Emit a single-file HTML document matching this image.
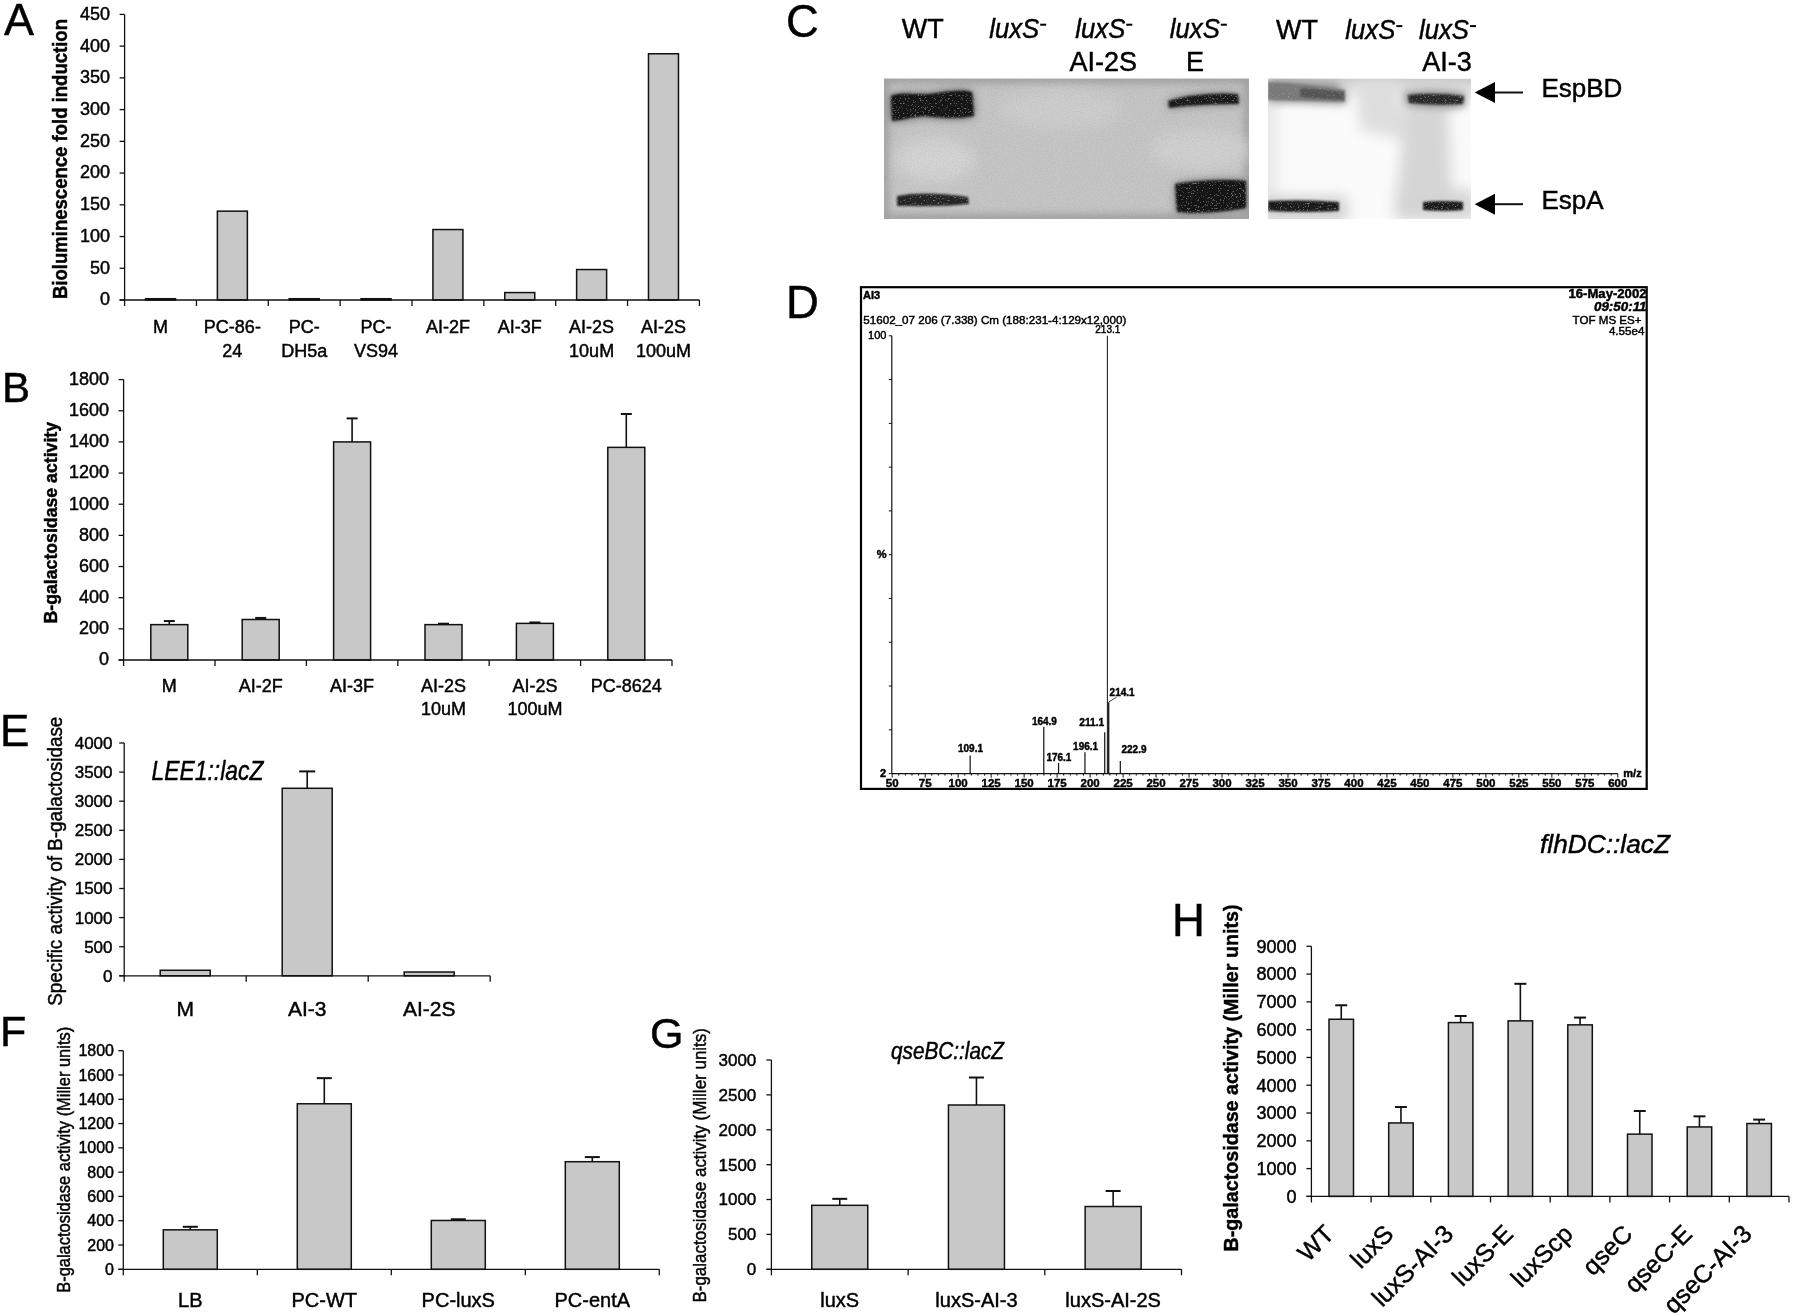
<!DOCTYPE html><html><head><meta charset="utf-8"><style>html,body{margin:0;padding:0;background:#fff;}svg{display:block;will-change:transform;} text{stroke:#000;stroke-width:0.45px;}</style></head><body>
<svg width="1800" height="1316" viewBox="0 0 1800 1316" font-family='"Liberation Sans", sans-serif'>
<rect width="1800" height="1316" fill="#fff"/>
<text x="4.00" y="35.00" font-size="45" text-anchor="start" font-weight="normal" font-style="normal" fill="#000" >A</text>
<rect x="145.52" y="298.73" width="30.00" height="1.27" fill="#c8c8c8" stroke="#111" stroke-width="1.5"/>
<rect x="217.38" y="211.15" width="30.00" height="88.85" fill="#c8c8c8" stroke="#111" stroke-width="1.5"/>
<rect x="289.23" y="298.73" width="30.00" height="1.27" fill="#c8c8c8" stroke="#111" stroke-width="1.5"/>
<rect x="361.07" y="298.73" width="30.00" height="1.27" fill="#c8c8c8" stroke="#111" stroke-width="1.5"/>
<rect x="432.92" y="229.55" width="30.00" height="70.45" fill="#c8c8c8" stroke="#111" stroke-width="1.5"/>
<rect x="504.77" y="292.57" width="30.00" height="7.43" fill="#c8c8c8" stroke="#111" stroke-width="1.5"/>
<rect x="576.62" y="269.54" width="30.00" height="30.46" fill="#c8c8c8" stroke="#111" stroke-width="1.5"/>
<rect x="648.48" y="53.75" width="30.00" height="246.25" fill="#c8c8c8" stroke="#111" stroke-width="1.5"/>
<line x1="124.60" y1="14.40" x2="124.60" y2="306.00" stroke="#111" stroke-width="1.3"/>
<line x1="119.60" y1="300.00" x2="699.40" y2="300.00" stroke="#111" stroke-width="1.3"/>
<line x1="119.60" y1="300.00" x2="124.60" y2="300.00" stroke="#111" stroke-width="1.3"/>
<text x="110.00" y="305.40" font-size="18" text-anchor="end" font-weight="normal" font-style="normal" fill="#000" >0</text>
<line x1="119.60" y1="268.27" x2="124.60" y2="268.27" stroke="#111" stroke-width="1.3"/>
<text x="110.00" y="273.67" font-size="18" text-anchor="end" font-weight="normal" font-style="normal" fill="#000" >50</text>
<line x1="119.60" y1="236.53" x2="124.60" y2="236.53" stroke="#111" stroke-width="1.3"/>
<text x="110.00" y="241.93" font-size="18" text-anchor="end" font-weight="normal" font-style="normal" fill="#000" >100</text>
<line x1="119.60" y1="204.80" x2="124.60" y2="204.80" stroke="#111" stroke-width="1.3"/>
<text x="110.00" y="210.20" font-size="18" text-anchor="end" font-weight="normal" font-style="normal" fill="#000" >150</text>
<line x1="119.60" y1="173.07" x2="124.60" y2="173.07" stroke="#111" stroke-width="1.3"/>
<text x="110.00" y="178.47" font-size="18" text-anchor="end" font-weight="normal" font-style="normal" fill="#000" >200</text>
<line x1="119.60" y1="141.33" x2="124.60" y2="141.33" stroke="#111" stroke-width="1.3"/>
<text x="110.00" y="146.73" font-size="18" text-anchor="end" font-weight="normal" font-style="normal" fill="#000" >250</text>
<line x1="119.60" y1="109.60" x2="124.60" y2="109.60" stroke="#111" stroke-width="1.3"/>
<text x="110.00" y="115.00" font-size="18" text-anchor="end" font-weight="normal" font-style="normal" fill="#000" >300</text>
<line x1="119.60" y1="77.87" x2="124.60" y2="77.87" stroke="#111" stroke-width="1.3"/>
<text x="110.00" y="83.27" font-size="18" text-anchor="end" font-weight="normal" font-style="normal" fill="#000" >350</text>
<line x1="119.60" y1="46.13" x2="124.60" y2="46.13" stroke="#111" stroke-width="1.3"/>
<text x="110.00" y="51.53" font-size="18" text-anchor="end" font-weight="normal" font-style="normal" fill="#000" >400</text>
<line x1="119.60" y1="14.40" x2="124.60" y2="14.40" stroke="#111" stroke-width="1.3"/>
<text x="110.00" y="19.80" font-size="18" text-anchor="end" font-weight="normal" font-style="normal" fill="#000" >450</text>
<line x1="196.45" y1="300.00" x2="196.45" y2="306.00" stroke="#111" stroke-width="1.3"/>
<line x1="268.30" y1="300.00" x2="268.30" y2="306.00" stroke="#111" stroke-width="1.3"/>
<line x1="340.15" y1="300.00" x2="340.15" y2="306.00" stroke="#111" stroke-width="1.3"/>
<line x1="412.00" y1="300.00" x2="412.00" y2="306.00" stroke="#111" stroke-width="1.3"/>
<line x1="483.85" y1="300.00" x2="483.85" y2="306.00" stroke="#111" stroke-width="1.3"/>
<line x1="555.70" y1="300.00" x2="555.70" y2="306.00" stroke="#111" stroke-width="1.3"/>
<line x1="627.55" y1="300.00" x2="627.55" y2="306.00" stroke="#111" stroke-width="1.3"/>
<line x1="699.40" y1="300.00" x2="699.40" y2="306.00" stroke="#111" stroke-width="1.3"/>
<text transform="translate(66.70,159.00) rotate(-90)" x="0" y="0" font-size="20" text-anchor="middle" font-weight="bold" textLength="280" lengthAdjust="spacingAndGlyphs">Bioluminescence fold induction</text>
<text x="160.52" y="332.60" font-size="18" text-anchor="middle" font-weight="normal" font-style="normal" fill="#000" >M</text>
<text x="232.38" y="332.60" font-size="18" text-anchor="middle" font-weight="normal" font-style="normal" fill="#000" >PC-86-</text>
<text x="232.38" y="357.00" font-size="18" text-anchor="middle" font-weight="normal" font-style="normal" fill="#000" >24</text>
<text x="304.23" y="332.60" font-size="18" text-anchor="middle" font-weight="normal" font-style="normal" fill="#000" >PC-</text>
<text x="304.23" y="357.00" font-size="18" text-anchor="middle" font-weight="normal" font-style="normal" fill="#000" >DH5a</text>
<text x="376.07" y="332.60" font-size="18" text-anchor="middle" font-weight="normal" font-style="normal" fill="#000" >PC-</text>
<text x="376.07" y="357.00" font-size="18" text-anchor="middle" font-weight="normal" font-style="normal" fill="#000" >VS94</text>
<text x="447.92" y="332.60" font-size="18" text-anchor="middle" font-weight="normal" font-style="normal" fill="#000" >AI-2F</text>
<text x="519.77" y="332.60" font-size="18" text-anchor="middle" font-weight="normal" font-style="normal" fill="#000" >AI-3F</text>
<text x="591.62" y="332.60" font-size="18" text-anchor="middle" font-weight="normal" font-style="normal" fill="#000" >AI-2S</text>
<text x="591.62" y="357.00" font-size="18" text-anchor="middle" font-weight="normal" font-style="normal" fill="#000" >10uM</text>
<text x="663.48" y="332.60" font-size="18" text-anchor="middle" font-weight="normal" font-style="normal" fill="#000" >AI-2S</text>
<text x="663.48" y="357.00" font-size="18" text-anchor="middle" font-weight="normal" font-style="normal" fill="#000" >100uM</text>
<text x="2.00" y="402.00" font-size="42" text-anchor="start" font-weight="normal" font-style="normal" fill="#000" >B</text>
<line x1="169.30" y1="624.64" x2="169.30" y2="621.06" stroke="#111" stroke-width="1.6"/>
<line x1="163.80" y1="621.06" x2="174.80" y2="621.06" stroke="#111" stroke-width="2.0"/>
<rect x="150.80" y="624.64" width="37.00" height="35.36" fill="#c8c8c8" stroke="#111" stroke-width="1.5"/>
<line x1="260.70" y1="619.50" x2="260.70" y2="617.94" stroke="#111" stroke-width="1.6"/>
<line x1="255.20" y1="617.94" x2="266.20" y2="617.94" stroke="#111" stroke-width="2.0"/>
<rect x="242.20" y="619.50" width="37.00" height="40.50" fill="#c8c8c8" stroke="#111" stroke-width="1.5"/>
<line x1="352.10" y1="441.91" x2="352.10" y2="418.39" stroke="#111" stroke-width="1.6"/>
<line x1="346.60" y1="418.39" x2="357.60" y2="418.39" stroke="#111" stroke-width="2.0"/>
<rect x="333.60" y="441.91" width="37.00" height="218.09" fill="#c8c8c8" stroke="#111" stroke-width="1.5"/>
<line x1="443.50" y1="624.64" x2="443.50" y2="623.70" stroke="#111" stroke-width="1.6"/>
<line x1="438.00" y1="623.70" x2="449.00" y2="623.70" stroke="#111" stroke-width="2.0"/>
<rect x="425.00" y="624.64" width="37.00" height="35.36" fill="#c8c8c8" stroke="#111" stroke-width="1.5"/>
<line x1="534.90" y1="623.39" x2="534.90" y2="622.46" stroke="#111" stroke-width="1.6"/>
<line x1="529.40" y1="622.46" x2="540.40" y2="622.46" stroke="#111" stroke-width="2.0"/>
<rect x="516.40" y="623.39" width="37.00" height="36.61" fill="#c8c8c8" stroke="#111" stroke-width="1.5"/>
<line x1="626.30" y1="447.36" x2="626.30" y2="414.03" stroke="#111" stroke-width="1.6"/>
<line x1="620.80" y1="414.03" x2="631.80" y2="414.03" stroke="#111" stroke-width="2.0"/>
<rect x="607.80" y="447.36" width="37.00" height="212.64" fill="#c8c8c8" stroke="#111" stroke-width="1.5"/>
<line x1="123.60" y1="379.60" x2="123.60" y2="666.00" stroke="#111" stroke-width="1.3"/>
<line x1="118.60" y1="660.00" x2="672.00" y2="660.00" stroke="#111" stroke-width="1.3"/>
<line x1="118.60" y1="660.00" x2="123.60" y2="660.00" stroke="#111" stroke-width="1.3"/>
<text x="109.00" y="665.40" font-size="18" text-anchor="end" font-weight="normal" font-style="normal" fill="#000" >0</text>
<line x1="118.60" y1="628.84" x2="123.60" y2="628.84" stroke="#111" stroke-width="1.3"/>
<text x="109.00" y="634.24" font-size="18" text-anchor="end" font-weight="normal" font-style="normal" fill="#000" >200</text>
<line x1="118.60" y1="597.69" x2="123.60" y2="597.69" stroke="#111" stroke-width="1.3"/>
<text x="109.00" y="603.09" font-size="18" text-anchor="end" font-weight="normal" font-style="normal" fill="#000" >400</text>
<line x1="118.60" y1="566.53" x2="123.60" y2="566.53" stroke="#111" stroke-width="1.3"/>
<text x="109.00" y="571.93" font-size="18" text-anchor="end" font-weight="normal" font-style="normal" fill="#000" >600</text>
<line x1="118.60" y1="535.38" x2="123.60" y2="535.38" stroke="#111" stroke-width="1.3"/>
<text x="109.00" y="540.78" font-size="18" text-anchor="end" font-weight="normal" font-style="normal" fill="#000" >800</text>
<line x1="118.60" y1="504.22" x2="123.60" y2="504.22" stroke="#111" stroke-width="1.3"/>
<text x="109.00" y="509.62" font-size="18" text-anchor="end" font-weight="normal" font-style="normal" fill="#000" >1000</text>
<line x1="118.60" y1="473.07" x2="123.60" y2="473.07" stroke="#111" stroke-width="1.3"/>
<text x="109.00" y="478.47" font-size="18" text-anchor="end" font-weight="normal" font-style="normal" fill="#000" >1200</text>
<line x1="118.60" y1="441.91" x2="123.60" y2="441.91" stroke="#111" stroke-width="1.3"/>
<text x="109.00" y="447.31" font-size="18" text-anchor="end" font-weight="normal" font-style="normal" fill="#000" >1400</text>
<line x1="118.60" y1="410.76" x2="123.60" y2="410.76" stroke="#111" stroke-width="1.3"/>
<text x="109.00" y="416.16" font-size="18" text-anchor="end" font-weight="normal" font-style="normal" fill="#000" >1600</text>
<line x1="118.60" y1="379.60" x2="123.60" y2="379.60" stroke="#111" stroke-width="1.3"/>
<text x="109.00" y="385.00" font-size="18" text-anchor="end" font-weight="normal" font-style="normal" fill="#000" >1800</text>
<line x1="215.00" y1="660.00" x2="215.00" y2="666.00" stroke="#111" stroke-width="1.3"/>
<line x1="306.40" y1="660.00" x2="306.40" y2="666.00" stroke="#111" stroke-width="1.3"/>
<line x1="397.80" y1="660.00" x2="397.80" y2="666.00" stroke="#111" stroke-width="1.3"/>
<line x1="489.20" y1="660.00" x2="489.20" y2="666.00" stroke="#111" stroke-width="1.3"/>
<line x1="580.60" y1="660.00" x2="580.60" y2="666.00" stroke="#111" stroke-width="1.3"/>
<line x1="672.00" y1="660.00" x2="672.00" y2="666.00" stroke="#111" stroke-width="1.3"/>
<text transform="translate(56.70,522.70) rotate(-90)" x="0" y="0" font-size="18" text-anchor="middle" font-weight="bold" textLength="201.5" lengthAdjust="spacingAndGlyphs">B-galactosidase activity</text>
<text x="169.30" y="691.60" font-size="18" text-anchor="middle" font-weight="normal" font-style="normal" fill="#000" >M</text>
<text x="260.70" y="691.60" font-size="18" text-anchor="middle" font-weight="normal" font-style="normal" fill="#000" >AI-2F</text>
<text x="352.10" y="691.60" font-size="18" text-anchor="middle" font-weight="normal" font-style="normal" fill="#000" >AI-3F</text>
<text x="443.50" y="691.60" font-size="18" text-anchor="middle" font-weight="normal" font-style="normal" fill="#000" >AI-2S</text>
<text x="443.50" y="715.00" font-size="18" text-anchor="middle" font-weight="normal" font-style="normal" fill="#000" >10uM</text>
<text x="534.90" y="691.60" font-size="18" text-anchor="middle" font-weight="normal" font-style="normal" fill="#000" >AI-2S</text>
<text x="534.90" y="715.00" font-size="18" text-anchor="middle" font-weight="normal" font-style="normal" fill="#000" >100uM</text>
<text x="626.30" y="691.60" font-size="18" text-anchor="middle" font-weight="normal" font-style="normal" fill="#000" >PC-8624</text>
<text x="0.00" y="746.00" font-size="44" text-anchor="start" font-weight="normal" font-style="normal" fill="#000" >E</text>
<rect x="160.20" y="970.27" width="50.00" height="5.53" fill="#c8c8c8" stroke="#111" stroke-width="1.5"/>
<line x1="307.20" y1="788.28" x2="307.20" y2="771.40" stroke="#111" stroke-width="1.6"/>
<line x1="299.20" y1="771.40" x2="315.20" y2="771.40" stroke="#111" stroke-width="2.0"/>
<rect x="282.20" y="788.28" width="50.00" height="187.52" fill="#c8c8c8" stroke="#111" stroke-width="1.5"/>
<rect x="404.20" y="972.02" width="50.00" height="3.78" fill="#c8c8c8" stroke="#111" stroke-width="1.5"/>
<line x1="124.20" y1="743.00" x2="124.20" y2="981.80" stroke="#111" stroke-width="1.3"/>
<line x1="119.20" y1="975.80" x2="490.20" y2="975.80" stroke="#111" stroke-width="1.3"/>
<line x1="119.20" y1="975.80" x2="124.20" y2="975.80" stroke="#111" stroke-width="1.3"/>
<text x="112.50" y="981.75" font-size="17" text-anchor="end" font-weight="normal" font-style="normal" fill="#000" >0</text>
<line x1="119.20" y1="946.70" x2="124.20" y2="946.70" stroke="#111" stroke-width="1.3"/>
<text x="112.50" y="952.65" font-size="17" text-anchor="end" font-weight="normal" font-style="normal" fill="#000" >500</text>
<line x1="119.20" y1="917.60" x2="124.20" y2="917.60" stroke="#111" stroke-width="1.3"/>
<text x="112.50" y="923.55" font-size="17" text-anchor="end" font-weight="normal" font-style="normal" fill="#000" >1000</text>
<line x1="119.20" y1="888.50" x2="124.20" y2="888.50" stroke="#111" stroke-width="1.3"/>
<text x="112.50" y="894.45" font-size="17" text-anchor="end" font-weight="normal" font-style="normal" fill="#000" >1500</text>
<line x1="119.20" y1="859.40" x2="124.20" y2="859.40" stroke="#111" stroke-width="1.3"/>
<text x="112.50" y="865.35" font-size="17" text-anchor="end" font-weight="normal" font-style="normal" fill="#000" >2000</text>
<line x1="119.20" y1="830.30" x2="124.20" y2="830.30" stroke="#111" stroke-width="1.3"/>
<text x="112.50" y="836.25" font-size="17" text-anchor="end" font-weight="normal" font-style="normal" fill="#000" >2500</text>
<line x1="119.20" y1="801.20" x2="124.20" y2="801.20" stroke="#111" stroke-width="1.3"/>
<text x="112.50" y="807.15" font-size="17" text-anchor="end" font-weight="normal" font-style="normal" fill="#000" >3000</text>
<line x1="119.20" y1="772.10" x2="124.20" y2="772.10" stroke="#111" stroke-width="1.3"/>
<text x="112.50" y="778.05" font-size="17" text-anchor="end" font-weight="normal" font-style="normal" fill="#000" >3500</text>
<line x1="119.20" y1="743.00" x2="124.20" y2="743.00" stroke="#111" stroke-width="1.3"/>
<text x="112.50" y="748.95" font-size="17" text-anchor="end" font-weight="normal" font-style="normal" fill="#000" >4000</text>
<line x1="246.20" y1="975.80" x2="246.20" y2="981.80" stroke="#111" stroke-width="1.3"/>
<line x1="368.20" y1="975.80" x2="368.20" y2="981.80" stroke="#111" stroke-width="1.3"/>
<line x1="490.20" y1="975.80" x2="490.20" y2="981.80" stroke="#111" stroke-width="1.3"/>
<text transform="translate(62.00,861.20) rotate(-90)" x="0" y="0" font-size="21" text-anchor="middle" font-weight="normal" textLength="289" lengthAdjust="spacingAndGlyphs">Specific activity of B-galactosidase</text>
<text x="151.40" y="780.00" font-size="27" text-anchor="start" font-weight="normal" font-style="italic" fill="#000" textLength="112" lengthAdjust="spacingAndGlyphs" >LEE1::lacZ</text>
<text x="185.20" y="1016.00" font-size="21" text-anchor="middle" font-weight="normal" font-style="normal" fill="#000" >M</text>
<text x="307.20" y="1016.00" font-size="21" text-anchor="middle" font-weight="normal" font-style="normal" fill="#000" >AI-3</text>
<text x="429.20" y="1016.00" font-size="21" text-anchor="middle" font-weight="normal" font-style="normal" fill="#000" >AI-2S</text>
<text x="0.00" y="1045.50" font-size="43" text-anchor="start" font-weight="normal" font-style="normal" fill="#000" >F</text>
<line x1="190.30" y1="1229.83" x2="190.30" y2="1226.79" stroke="#111" stroke-width="1.6"/>
<line x1="182.80" y1="1226.79" x2="197.80" y2="1226.79" stroke="#111" stroke-width="2.0"/>
<rect x="163.30" y="1229.83" width="54.00" height="39.47" fill="#c8c8c8" stroke="#111" stroke-width="1.5"/>
<line x1="324.30" y1="1103.77" x2="324.30" y2="1078.15" stroke="#111" stroke-width="1.6"/>
<line x1="316.80" y1="1078.15" x2="331.80" y2="1078.15" stroke="#111" stroke-width="2.0"/>
<rect x="297.30" y="1103.77" width="54.00" height="165.53" fill="#c8c8c8" stroke="#111" stroke-width="1.5"/>
<line x1="458.30" y1="1220.48" x2="458.30" y2="1219.26" stroke="#111" stroke-width="1.6"/>
<line x1="450.80" y1="1219.26" x2="465.80" y2="1219.26" stroke="#111" stroke-width="2.0"/>
<rect x="431.30" y="1220.48" width="54.00" height="48.82" fill="#c8c8c8" stroke="#111" stroke-width="1.5"/>
<line x1="592.30" y1="1161.70" x2="592.30" y2="1157.09" stroke="#111" stroke-width="1.6"/>
<line x1="584.80" y1="1157.09" x2="599.80" y2="1157.09" stroke="#111" stroke-width="2.0"/>
<rect x="565.30" y="1161.70" width="54.00" height="107.60" fill="#c8c8c8" stroke="#111" stroke-width="1.5"/>
<line x1="123.30" y1="1050.70" x2="123.30" y2="1275.30" stroke="#111" stroke-width="1.3"/>
<line x1="118.30" y1="1269.30" x2="659.30" y2="1269.30" stroke="#111" stroke-width="1.3"/>
<line x1="118.30" y1="1269.30" x2="123.30" y2="1269.30" stroke="#111" stroke-width="1.3"/>
<text x="114.00" y="1274.90" font-size="16" text-anchor="end" font-weight="normal" font-style="normal" fill="#000" >0</text>
<line x1="118.30" y1="1245.01" x2="123.30" y2="1245.01" stroke="#111" stroke-width="1.3"/>
<text x="114.00" y="1250.61" font-size="16" text-anchor="end" font-weight="normal" font-style="normal" fill="#000" >200</text>
<line x1="118.30" y1="1220.72" x2="123.30" y2="1220.72" stroke="#111" stroke-width="1.3"/>
<text x="114.00" y="1226.32" font-size="16" text-anchor="end" font-weight="normal" font-style="normal" fill="#000" >400</text>
<line x1="118.30" y1="1196.43" x2="123.30" y2="1196.43" stroke="#111" stroke-width="1.3"/>
<text x="114.00" y="1202.03" font-size="16" text-anchor="end" font-weight="normal" font-style="normal" fill="#000" >600</text>
<line x1="118.30" y1="1172.14" x2="123.30" y2="1172.14" stroke="#111" stroke-width="1.3"/>
<text x="114.00" y="1177.74" font-size="16" text-anchor="end" font-weight="normal" font-style="normal" fill="#000" >800</text>
<line x1="118.30" y1="1147.86" x2="123.30" y2="1147.86" stroke="#111" stroke-width="1.3"/>
<text x="114.00" y="1153.46" font-size="16" text-anchor="end" font-weight="normal" font-style="normal" fill="#000" >1000</text>
<line x1="118.30" y1="1123.57" x2="123.30" y2="1123.57" stroke="#111" stroke-width="1.3"/>
<text x="114.00" y="1129.17" font-size="16" text-anchor="end" font-weight="normal" font-style="normal" fill="#000" >1200</text>
<line x1="118.30" y1="1099.28" x2="123.30" y2="1099.28" stroke="#111" stroke-width="1.3"/>
<text x="114.00" y="1104.88" font-size="16" text-anchor="end" font-weight="normal" font-style="normal" fill="#000" >1400</text>
<line x1="118.30" y1="1074.99" x2="123.30" y2="1074.99" stroke="#111" stroke-width="1.3"/>
<text x="114.00" y="1080.59" font-size="16" text-anchor="end" font-weight="normal" font-style="normal" fill="#000" >1600</text>
<line x1="118.30" y1="1050.70" x2="123.30" y2="1050.70" stroke="#111" stroke-width="1.3"/>
<text x="114.00" y="1056.30" font-size="16" text-anchor="end" font-weight="normal" font-style="normal" fill="#000" >1800</text>
<line x1="257.30" y1="1269.30" x2="257.30" y2="1275.30" stroke="#111" stroke-width="1.3"/>
<line x1="391.30" y1="1269.30" x2="391.30" y2="1275.30" stroke="#111" stroke-width="1.3"/>
<line x1="525.30" y1="1269.30" x2="525.30" y2="1275.30" stroke="#111" stroke-width="1.3"/>
<line x1="659.30" y1="1269.30" x2="659.30" y2="1275.30" stroke="#111" stroke-width="1.3"/>
<text transform="translate(69.70,1159.80) rotate(-90)" x="0" y="0" font-size="17.5" text-anchor="middle" font-weight="normal" textLength="266" lengthAdjust="spacingAndGlyphs">B-galactosidase activity (Miller units)</text>
<text x="190.30" y="1306.50" font-size="20" text-anchor="middle" font-weight="normal" font-style="normal" fill="#000" >LB</text>
<text x="324.30" y="1306.50" font-size="20" text-anchor="middle" font-weight="normal" font-style="normal" fill="#000" >PC-WT</text>
<text x="458.30" y="1306.50" font-size="20" text-anchor="middle" font-weight="normal" font-style="normal" fill="#000" >PC-luxS</text>
<text x="592.30" y="1306.50" font-size="20" text-anchor="middle" font-weight="normal" font-style="normal" fill="#000" >PC-entA</text>
<text x="650.00" y="1047.50" font-size="43" text-anchor="start" font-weight="normal" font-style="normal" fill="#000" >G</text>
<line x1="839.75" y1="1205.32" x2="839.75" y2="1198.84" stroke="#111" stroke-width="1.6"/>
<line x1="832.25" y1="1198.84" x2="847.25" y2="1198.84" stroke="#111" stroke-width="2.0"/>
<rect x="811.75" y="1205.32" width="56.00" height="63.98" fill="#c8c8c8" stroke="#111" stroke-width="1.5"/>
<line x1="976.45" y1="1105.00" x2="976.45" y2="1077.51" stroke="#111" stroke-width="1.6"/>
<line x1="968.95" y1="1077.51" x2="983.95" y2="1077.51" stroke="#111" stroke-width="2.0"/>
<rect x="948.45" y="1105.00" width="56.00" height="164.30" fill="#c8c8c8" stroke="#111" stroke-width="1.5"/>
<line x1="1113.15" y1="1206.51" x2="1113.15" y2="1191.02" stroke="#111" stroke-width="1.6"/>
<line x1="1105.65" y1="1191.02" x2="1120.65" y2="1191.02" stroke="#111" stroke-width="2.0"/>
<rect x="1085.15" y="1206.51" width="56.00" height="62.79" fill="#c8c8c8" stroke="#111" stroke-width="1.5"/>
<line x1="771.40" y1="1060.00" x2="771.40" y2="1275.30" stroke="#111" stroke-width="1.3"/>
<line x1="766.40" y1="1269.30" x2="1181.50" y2="1269.30" stroke="#111" stroke-width="1.3"/>
<line x1="766.40" y1="1269.30" x2="771.40" y2="1269.30" stroke="#111" stroke-width="1.3"/>
<text x="756.30" y="1275.25" font-size="17" text-anchor="end" font-weight="normal" font-style="normal" fill="#000" >0</text>
<line x1="766.40" y1="1234.42" x2="771.40" y2="1234.42" stroke="#111" stroke-width="1.3"/>
<text x="756.30" y="1240.37" font-size="17" text-anchor="end" font-weight="normal" font-style="normal" fill="#000" >500</text>
<line x1="766.40" y1="1199.53" x2="771.40" y2="1199.53" stroke="#111" stroke-width="1.3"/>
<text x="756.30" y="1205.48" font-size="17" text-anchor="end" font-weight="normal" font-style="normal" fill="#000" >1000</text>
<line x1="766.40" y1="1164.65" x2="771.40" y2="1164.65" stroke="#111" stroke-width="1.3"/>
<text x="756.30" y="1170.60" font-size="17" text-anchor="end" font-weight="normal" font-style="normal" fill="#000" >1500</text>
<line x1="766.40" y1="1129.77" x2="771.40" y2="1129.77" stroke="#111" stroke-width="1.3"/>
<text x="756.30" y="1135.72" font-size="17" text-anchor="end" font-weight="normal" font-style="normal" fill="#000" >2000</text>
<line x1="766.40" y1="1094.88" x2="771.40" y2="1094.88" stroke="#111" stroke-width="1.3"/>
<text x="756.30" y="1100.83" font-size="17" text-anchor="end" font-weight="normal" font-style="normal" fill="#000" >2500</text>
<line x1="766.40" y1="1060.00" x2="771.40" y2="1060.00" stroke="#111" stroke-width="1.3"/>
<text x="756.30" y="1065.95" font-size="17" text-anchor="end" font-weight="normal" font-style="normal" fill="#000" >3000</text>
<line x1="908.10" y1="1269.30" x2="908.10" y2="1275.30" stroke="#111" stroke-width="1.3"/>
<line x1="1044.80" y1="1269.30" x2="1044.80" y2="1275.30" stroke="#111" stroke-width="1.3"/>
<line x1="1181.50" y1="1269.30" x2="1181.50" y2="1275.30" stroke="#111" stroke-width="1.3"/>
<text transform="translate(706.00,1165.30) rotate(-90)" x="0" y="0" font-size="18" text-anchor="middle" font-weight="normal" textLength="274.5" lengthAdjust="spacingAndGlyphs">B-galactosidase activity (Miller units)</text>
<text x="891.00" y="1059.30" font-size="23" text-anchor="start" font-weight="normal" font-style="italic" fill="#000" textLength="113" lengthAdjust="spacingAndGlyphs" >qseBC::lacZ</text>
<text x="839.75" y="1306.50" font-size="20" text-anchor="middle" font-weight="normal" font-style="normal" fill="#000" >luxS</text>
<text x="976.45" y="1306.50" font-size="20" text-anchor="middle" font-weight="normal" font-style="normal" fill="#000" >luxS-AI-3</text>
<text x="1113.15" y="1306.50" font-size="20" text-anchor="middle" font-weight="normal" font-style="normal" fill="#000" >luxS-AI-2S</text>
<text x="1172.00" y="936.00" font-size="45.5" text-anchor="start" font-weight="normal" font-style="normal" fill="#000" >H</text>
<line x1="1341.25" y1="1019.27" x2="1341.25" y2="1005.27" stroke="#111" stroke-width="1.6"/>
<line x1="1335.25" y1="1005.27" x2="1347.25" y2="1005.27" stroke="#111" stroke-width="2.0"/>
<rect x="1329.00" y="1019.27" width="24.50" height="177.13" fill="#c8c8c8" stroke="#111" stroke-width="1.5"/>
<line x1="1400.95" y1="1122.93" x2="1400.95" y2="1107.03" stroke="#111" stroke-width="1.6"/>
<line x1="1394.95" y1="1107.03" x2="1406.95" y2="1107.03" stroke="#111" stroke-width="2.0"/>
<rect x="1388.70" y="1122.93" width="24.50" height="73.47" fill="#c8c8c8" stroke="#111" stroke-width="1.5"/>
<line x1="1460.65" y1="1022.58" x2="1460.65" y2="1015.97" stroke="#111" stroke-width="1.6"/>
<line x1="1454.65" y1="1015.97" x2="1466.65" y2="1015.97" stroke="#111" stroke-width="2.0"/>
<rect x="1448.40" y="1022.58" width="24.50" height="173.82" fill="#c8c8c8" stroke="#111" stroke-width="1.5"/>
<line x1="1520.35" y1="1020.86" x2="1520.35" y2="983.79" stroke="#111" stroke-width="1.6"/>
<line x1="1514.35" y1="983.79" x2="1526.35" y2="983.79" stroke="#111" stroke-width="2.0"/>
<rect x="1508.10" y="1020.86" width="24.50" height="175.54" fill="#c8c8c8" stroke="#111" stroke-width="1.5"/>
<line x1="1580.05" y1="1024.86" x2="1580.05" y2="1017.58" stroke="#111" stroke-width="1.6"/>
<line x1="1574.05" y1="1017.58" x2="1586.05" y2="1017.58" stroke="#111" stroke-width="2.0"/>
<rect x="1567.80" y="1024.86" width="24.50" height="171.54" fill="#c8c8c8" stroke="#111" stroke-width="1.5"/>
<line x1="1639.75" y1="1134.13" x2="1639.75" y2="1111.03" stroke="#111" stroke-width="1.6"/>
<line x1="1633.75" y1="1111.03" x2="1645.75" y2="1111.03" stroke="#111" stroke-width="2.0"/>
<rect x="1627.50" y="1134.13" width="24.50" height="62.27" fill="#c8c8c8" stroke="#111" stroke-width="1.5"/>
<line x1="1699.45" y1="1126.93" x2="1699.45" y2="1116.34" stroke="#111" stroke-width="1.6"/>
<line x1="1693.45" y1="1116.34" x2="1705.45" y2="1116.34" stroke="#111" stroke-width="2.0"/>
<rect x="1687.20" y="1126.93" width="24.50" height="69.47" fill="#c8c8c8" stroke="#111" stroke-width="1.5"/>
<line x1="1759.15" y1="1123.54" x2="1759.15" y2="1119.62" stroke="#111" stroke-width="1.6"/>
<line x1="1753.15" y1="1119.62" x2="1765.15" y2="1119.62" stroke="#111" stroke-width="2.0"/>
<rect x="1746.90" y="1123.54" width="24.50" height="72.86" fill="#c8c8c8" stroke="#111" stroke-width="1.5"/>
<line x1="1311.40" y1="946.30" x2="1311.40" y2="1202.40" stroke="#111" stroke-width="1.3"/>
<line x1="1306.40" y1="1196.40" x2="1789.00" y2="1196.40" stroke="#111" stroke-width="1.3"/>
<line x1="1306.40" y1="1196.40" x2="1311.40" y2="1196.40" stroke="#111" stroke-width="1.3"/>
<text x="1296.50" y="1202.70" font-size="18" text-anchor="end" font-weight="normal" font-style="normal" fill="#000" >0</text>
<line x1="1306.40" y1="1168.61" x2="1311.40" y2="1168.61" stroke="#111" stroke-width="1.3"/>
<text x="1296.50" y="1174.91" font-size="18" text-anchor="end" font-weight="normal" font-style="normal" fill="#000" >1000</text>
<line x1="1306.40" y1="1140.82" x2="1311.40" y2="1140.82" stroke="#111" stroke-width="1.3"/>
<text x="1296.50" y="1147.12" font-size="18" text-anchor="end" font-weight="normal" font-style="normal" fill="#000" >2000</text>
<line x1="1306.40" y1="1113.03" x2="1311.40" y2="1113.03" stroke="#111" stroke-width="1.3"/>
<text x="1296.50" y="1119.33" font-size="18" text-anchor="end" font-weight="normal" font-style="normal" fill="#000" >3000</text>
<line x1="1306.40" y1="1085.24" x2="1311.40" y2="1085.24" stroke="#111" stroke-width="1.3"/>
<text x="1296.50" y="1091.54" font-size="18" text-anchor="end" font-weight="normal" font-style="normal" fill="#000" >4000</text>
<line x1="1306.40" y1="1057.46" x2="1311.40" y2="1057.46" stroke="#111" stroke-width="1.3"/>
<text x="1296.50" y="1063.76" font-size="18" text-anchor="end" font-weight="normal" font-style="normal" fill="#000" >5000</text>
<line x1="1306.40" y1="1029.67" x2="1311.40" y2="1029.67" stroke="#111" stroke-width="1.3"/>
<text x="1296.50" y="1035.97" font-size="18" text-anchor="end" font-weight="normal" font-style="normal" fill="#000" >6000</text>
<line x1="1306.40" y1="1001.88" x2="1311.40" y2="1001.88" stroke="#111" stroke-width="1.3"/>
<text x="1296.50" y="1008.18" font-size="18" text-anchor="end" font-weight="normal" font-style="normal" fill="#000" >7000</text>
<line x1="1306.40" y1="974.09" x2="1311.40" y2="974.09" stroke="#111" stroke-width="1.3"/>
<text x="1296.50" y="980.39" font-size="18" text-anchor="end" font-weight="normal" font-style="normal" fill="#000" >8000</text>
<line x1="1306.40" y1="946.30" x2="1311.40" y2="946.30" stroke="#111" stroke-width="1.3"/>
<text x="1296.50" y="952.60" font-size="18" text-anchor="end" font-weight="normal" font-style="normal" fill="#000" >9000</text>
<line x1="1371.10" y1="1196.40" x2="1371.10" y2="1202.40" stroke="#111" stroke-width="1.3"/>
<line x1="1430.80" y1="1196.40" x2="1430.80" y2="1202.40" stroke="#111" stroke-width="1.3"/>
<line x1="1490.50" y1="1196.40" x2="1490.50" y2="1202.40" stroke="#111" stroke-width="1.3"/>
<line x1="1550.20" y1="1196.40" x2="1550.20" y2="1202.40" stroke="#111" stroke-width="1.3"/>
<line x1="1609.90" y1="1196.40" x2="1609.90" y2="1202.40" stroke="#111" stroke-width="1.3"/>
<line x1="1669.60" y1="1196.40" x2="1669.60" y2="1202.40" stroke="#111" stroke-width="1.3"/>
<line x1="1729.30" y1="1196.40" x2="1729.30" y2="1202.40" stroke="#111" stroke-width="1.3"/>
<line x1="1789.00" y1="1196.40" x2="1789.00" y2="1202.40" stroke="#111" stroke-width="1.3"/>
<text transform="translate(1238.00,1078.00) rotate(-90)" x="0" y="0" font-size="21" text-anchor="middle" font-weight="bold" textLength="347" lengthAdjust="spacingAndGlyphs">B-galactosidase activity (Miller units)</text>
<text transform="translate(1335.45,1235.4) rotate(-45)" x="0" y="0" font-size="25" text-anchor="end">WT</text>
<text transform="translate(1395.15,1235.4) rotate(-45)" x="0" y="0" font-size="25" text-anchor="end">luxS</text>
<text transform="translate(1454.85,1235.4) rotate(-45)" x="0" y="0" font-size="25" text-anchor="end">luxS-AI-3</text>
<text transform="translate(1514.55,1235.4) rotate(-45)" x="0" y="0" font-size="25" text-anchor="end">luxS-E</text>
<text transform="translate(1574.25,1235.4) rotate(-45)" x="0" y="0" font-size="25" text-anchor="end">luxScp</text>
<text transform="translate(1633.95,1235.4) rotate(-45)" x="0" y="0" font-size="25" text-anchor="end">qseC</text>
<text transform="translate(1693.65,1235.4) rotate(-45)" x="0" y="0" font-size="25" text-anchor="end">qseC-E</text>
<text transform="translate(1753.35,1235.4) rotate(-45)" x="0" y="0" font-size="25" text-anchor="end">qseC-AI-3</text>
<text x="786.00" y="36.50" font-size="45.5" text-anchor="start" font-weight="normal" font-style="normal" fill="#000" >C</text>
<defs><filter id="bl1" x="-30%" y="-60%" width="160%" height="220%"><feGaussianBlur stdDeviation="1.3" result="b"/><feTurbulence type="fractalNoise" baseFrequency="0.6" numOctaves="2" seed="7" result="n"/><feColorMatrix in="n" type="matrix" values="0 0 0 0 0.4  0 0 0 0 0.4  0 0 0 0 0.4  -2.4 0 0 0 0.95" result="sp"/><feGaussianBlur in="sp" stdDeviation="0.5" result="spb"/><feComposite in="spb" in2="b" operator="in" result="sp2"/><feMerge><feMergeNode in="b"/><feMergeNode in="sp2"/></feMerge></filter><filter id="bl" x="-30%" y="-60%" width="160%" height="220%"><feGaussianBlur stdDeviation="4.5"/></filter><filter id="bl2" x="-30%" y="-30%" width="160%" height="160%"><feGaussianBlur stdDeviation="7"/></filter><filter id="noise" x="0" y="0" width="100%" height="100%"><feTurbulence type="fractalNoise" baseFrequency="0.8" numOctaves="2" seed="3"/><feColorMatrix type="matrix" values="0 0 0 0 0  0 0 0 0 0  0 0 0 0 0  0 0 0 -1.6 1.1"/></filter><clipPath id="cp1"><rect x="884" y="78.6" width="365" height="140.3"/></clipPath><clipPath id="cp2"><rect x="1268" y="78.6" width="203" height="140.3"/></clipPath><linearGradient id="g2top" x1="0" y1="0" x2="0" y2="1"><stop offset="0" stop-color="#cacaca"/><stop offset="1" stop-color="#cacaca" stop-opacity="0"/></linearGradient></defs>
<g clip-path="url(#cp1)">
<rect x="884" y="78.6" width="365" height="140.3" fill="#c7c7c7"/>
<rect x="884" y="78.6" width="365" height="140.3" fill="none" stroke="#9c9c9c" stroke-width="8" filter="url(#bl)"/>
<g filter="url(#bl2)"><ellipse cx="935" cy="160" rx="40" ry="22" fill="#d6d6d6"/><ellipse cx="1200" cy="150" rx="50" ry="20" fill="#d2d2d2"/><ellipse cx="1060" cy="110" rx="60" ry="20" fill="#cfcfcf"/></g>
<g filter="url(#bl)"><path d="M891,96 C900,92 915,95 930,94 C945,92 960,89 972,92 L974,116 C960,119 940,118 925,116 C910,117 898,121 892,121 Z" fill="#505050"/><path d="M1168,101 C1185,95 1215,92 1238,94 L1239,104 C1215,104 1190,105 1169,108 Z" fill="#707070"/><path d="M1175,184 C1200,180 1230,179 1246,181 L1246,208 C1225,212 1195,214 1177,212 Z" fill="#6a6a6a"/></g>
<g filter="url(#bl1)"><path d="M891,96 C900,92 915,95 930,94 C945,92 960,89 972,92 L974,116 C960,119 940,118 925,116 C910,117 898,121 892,121 Z" fill="#181818"/><path d="M897,196 C915,192 945,193 968,197 L969,204 C945,207 915,206 897,206 Z" fill="#262626"/><path d="M1168,101 C1185,95 1215,92 1238,94 L1239,104 C1215,104 1190,105 1169,108 Z" fill="#1e1e1e"/><path d="M1175,184 C1200,180 1230,179 1246,181 L1246,208 C1225,212 1195,214 1177,212 Z" fill="#161616"/></g>
<rect x="884" y="78.6" width="365" height="140.3" filter="url(#noise)" opacity="0.07"/>
</g>
<g clip-path="url(#cp2)">
<rect x="1268" y="78.6" width="203" height="140.3" fill="#fbfbfb"/>
<rect x="1268" y="78.6" width="203" height="22" fill="url(#g2top)"/>
<g filter="url(#bl2)"><rect x="1262" y="70" width="14" height="150" fill="#e4e4e4"/><path d="M1355,80 L1400,80 L1405,140 L1360,130 Z" fill="#dedede"/><path d="M1406,100 L1448,100 L1452,192 L1396,200 Z" fill="#d6d6d6"/><rect x="1262" y="196" width="85" height="26" fill="#d0d0d0"/><rect x="1395" y="190" width="80" height="30" fill="#d4d4d4"/></g>
<g filter="url(#bl)"><path d="M1268,79 L1335,83 Q1348,90 1346,104 L1268,102 Z" fill="#909090"/><path d="M1404,92 Q1435,88 1466,93 L1465,107 Q1435,109 1406,105 Z" fill="#8a8a8a"/></g>
<g filter="url(#bl1)"><path d="M1268,82 Q1310,84 1345,90 L1345,102 Q1310,101 1268,100 Z" fill="#7a7a7a"/><path d="M1300,88 Q1325,89 1344,92 L1344,100 Q1320,99 1300,97 Z" fill="#555"/><path d="M1408,95 Q1435,92 1464,96 L1463,104 Q1435,106 1409,103 Z" fill="#2a2a2a"/><path d="M1268,201 Q1305,199 1339,202 L1339,211 Q1305,213 1268,211 Z" fill="#1c1c1c"/><path d="M1423,202 Q1445,200 1463,202 L1463,210 Q1445,212 1423,210 Z" fill="#1c1c1c"/></g>
</g>
<text x="922.80" y="37.50" font-size="27" text-anchor="middle" font-weight="normal" font-style="normal" fill="#000" >WT</text>
<text x="989.20" y="37.50" font-size="27" font-style="italic" textLength="50" lengthAdjust="spacingAndGlyphs">luxS</text>
<rect x="1040.20" y="23.70" width="6" height="2" fill="#000"/>
<text x="1075.30" y="37.50" font-size="27" font-style="italic" textLength="50" lengthAdjust="spacingAndGlyphs">luxS</text>
<rect x="1126.30" y="23.70" width="6" height="2" fill="#000"/>
<text x="1103.30" y="70.80" font-size="27" text-anchor="middle" font-weight="normal" font-style="normal" fill="#000" >AI-2S</text>
<text x="1169.80" y="37.50" font-size="27" font-style="italic" textLength="50" lengthAdjust="spacingAndGlyphs">luxS</text>
<rect x="1220.80" y="23.70" width="6" height="2" fill="#000"/>
<text x="1195.00" y="70.80" font-size="27" text-anchor="middle" font-weight="normal" font-style="normal" fill="#000" >E</text>
<text x="1297.00" y="38.90" font-size="27" text-anchor="middle" font-weight="normal" font-style="normal" fill="#000" >WT</text>
<text x="1345.30" y="38.90" font-size="27" font-style="italic" textLength="50" lengthAdjust="spacingAndGlyphs">luxS</text>
<rect x="1396.30" y="25.10" width="6" height="2" fill="#000"/>
<text x="1419.00" y="38.90" font-size="27" font-style="italic" textLength="50" lengthAdjust="spacingAndGlyphs">luxS</text>
<rect x="1470.00" y="25.10" width="6" height="2" fill="#000"/>
<text x="1447.00" y="70.80" font-size="27" text-anchor="middle" font-weight="normal" font-style="normal" fill="#000" >AI-3</text>
<path d="M1474.7,92.5 L1495,82.0 L1495,103.0 Z" fill="#000"/>
<line x1="1494.00" y1="92.50" x2="1523.00" y2="92.50" stroke="#111" stroke-width="2"/>
<path d="M1474.7,204.2 L1495,193.7 L1495,214.7 Z" fill="#000"/>
<line x1="1494.00" y1="204.20" x2="1523.00" y2="204.20" stroke="#111" stroke-width="2"/>
<text x="1541.40" y="97.20" font-size="26" text-anchor="start" font-weight="normal" font-style="normal" fill="#000" >EspBD</text>
<text x="1541.40" y="208.90" font-size="26" text-anchor="start" font-weight="normal" font-style="normal" fill="#000" >EspA</text>
<text x="786.00" y="317.50" font-size="45.5" text-anchor="start" font-weight="normal" font-style="normal" fill="#000" >D</text>
<rect x="861" y="287.2" width="785.7" height="501.7" fill="none" stroke="#000" stroke-width="2.2"/>
<text x="863.00" y="298.60" font-size="11" text-anchor="start" font-weight="bold" font-style="normal" fill="#000" >AI3</text>
<text x="863.30" y="324.20" font-size="11.5" text-anchor="start" font-weight="normal" font-style="normal" fill="#000" textLength="263" lengthAdjust="spacingAndGlyphs" >51602_07 206 (7.338) Cm (188:231-4:129x12,000)</text>
<text x="886.40" y="339.40" font-size="11" text-anchor="end" font-weight="normal" font-style="normal" fill="#000" >100</text>
<text x="1646.50" y="298.40" font-size="12.5" text-anchor="end" font-weight="bold" font-style="normal" fill="#000" textLength="78" lengthAdjust="spacingAndGlyphs" >16-May-2002</text>
<text x="1646.50" y="311.10" font-size="12.5" text-anchor="end" font-weight="bold" font-style="italic" fill="#000" textLength="52.5" lengthAdjust="spacingAndGlyphs" >09:50:11</text>
<text x="1641.60" y="324.00" font-size="11.5" text-anchor="end" font-weight="normal" font-style="normal" fill="#000" textLength="69" lengthAdjust="spacingAndGlyphs" >TOF MS ES+</text>
<text x="1644.40" y="334.90" font-size="11.5" text-anchor="end" font-weight="normal" font-style="normal" fill="#000" textLength="35.5" lengthAdjust="spacingAndGlyphs" >4.55e4</text>
<line x1="891.80" y1="335.80" x2="891.80" y2="773.60" stroke="#111" stroke-width="1.2"/>
<line x1="888.80" y1="335.80" x2="891.80" y2="335.80" stroke="#111" stroke-width="1"/>
<line x1="888.80" y1="379.58" x2="891.80" y2="379.58" stroke="#111" stroke-width="1"/>
<line x1="888.80" y1="423.36" x2="891.80" y2="423.36" stroke="#111" stroke-width="1"/>
<line x1="888.80" y1="467.14" x2="891.80" y2="467.14" stroke="#111" stroke-width="1"/>
<line x1="888.80" y1="510.92" x2="891.80" y2="510.92" stroke="#111" stroke-width="1"/>
<line x1="888.80" y1="554.70" x2="891.80" y2="554.70" stroke="#111" stroke-width="1"/>
<line x1="888.80" y1="598.48" x2="891.80" y2="598.48" stroke="#111" stroke-width="1"/>
<line x1="888.80" y1="642.26" x2="891.80" y2="642.26" stroke="#111" stroke-width="1"/>
<line x1="888.80" y1="686.04" x2="891.80" y2="686.04" stroke="#111" stroke-width="1"/>
<line x1="888.80" y1="729.82" x2="891.80" y2="729.82" stroke="#111" stroke-width="1"/>
<line x1="888.80" y1="773.60" x2="891.80" y2="773.60" stroke="#111" stroke-width="1"/>
<text x="886.60" y="558.00" font-size="11" text-anchor="end" font-weight="bold" font-style="normal" fill="#000" >%</text>
<text x="886.00" y="777.00" font-size="11" text-anchor="end" font-weight="bold" font-style="normal" fill="#000" >2</text>
<line x1="891.80" y1="773.60" x2="1617.82" y2="773.60" stroke="#111" stroke-width="1.2"/>
<line x1="892.20" y1="773.60" x2="892.20" y2="777.60" stroke="#111" stroke-width="1"/>
<text x="892.20" y="786.70" font-size="11.5" text-anchor="middle" font-weight="bold" font-style="normal" fill="#000" >50</text>
<line x1="898.80" y1="773.60" x2="898.80" y2="775.60" stroke="#111" stroke-width="1"/>
<line x1="905.39" y1="773.60" x2="905.39" y2="775.60" stroke="#111" stroke-width="1"/>
<line x1="911.99" y1="773.60" x2="911.99" y2="775.60" stroke="#111" stroke-width="1"/>
<line x1="918.59" y1="773.60" x2="918.59" y2="775.60" stroke="#111" stroke-width="1"/>
<line x1="925.18" y1="773.60" x2="925.18" y2="777.60" stroke="#111" stroke-width="1"/>
<text x="925.18" y="786.70" font-size="11.5" text-anchor="middle" font-weight="bold" font-style="normal" fill="#000" >75</text>
<line x1="931.78" y1="773.60" x2="931.78" y2="775.60" stroke="#111" stroke-width="1"/>
<line x1="938.38" y1="773.60" x2="938.38" y2="775.60" stroke="#111" stroke-width="1"/>
<line x1="944.97" y1="773.60" x2="944.97" y2="775.60" stroke="#111" stroke-width="1"/>
<line x1="951.57" y1="773.60" x2="951.57" y2="775.60" stroke="#111" stroke-width="1"/>
<line x1="958.17" y1="773.60" x2="958.17" y2="777.60" stroke="#111" stroke-width="1"/>
<text x="958.17" y="786.70" font-size="11.5" text-anchor="middle" font-weight="bold" font-style="normal" fill="#000" >100</text>
<line x1="964.76" y1="773.60" x2="964.76" y2="775.60" stroke="#111" stroke-width="1"/>
<line x1="971.36" y1="773.60" x2="971.36" y2="775.60" stroke="#111" stroke-width="1"/>
<line x1="977.95" y1="773.60" x2="977.95" y2="775.60" stroke="#111" stroke-width="1"/>
<line x1="984.55" y1="773.60" x2="984.55" y2="775.60" stroke="#111" stroke-width="1"/>
<line x1="991.15" y1="773.60" x2="991.15" y2="777.60" stroke="#111" stroke-width="1"/>
<text x="991.15" y="786.70" font-size="11.5" text-anchor="middle" font-weight="bold" font-style="normal" fill="#000" >125</text>
<line x1="997.74" y1="773.60" x2="997.74" y2="775.60" stroke="#111" stroke-width="1"/>
<line x1="1004.34" y1="773.60" x2="1004.34" y2="775.60" stroke="#111" stroke-width="1"/>
<line x1="1010.94" y1="773.60" x2="1010.94" y2="775.60" stroke="#111" stroke-width="1"/>
<line x1="1017.53" y1="773.60" x2="1017.53" y2="775.60" stroke="#111" stroke-width="1"/>
<line x1="1024.13" y1="773.60" x2="1024.13" y2="777.60" stroke="#111" stroke-width="1"/>
<text x="1024.13" y="786.70" font-size="11.5" text-anchor="middle" font-weight="bold" font-style="normal" fill="#000" >150</text>
<line x1="1030.73" y1="773.60" x2="1030.73" y2="775.60" stroke="#111" stroke-width="1"/>
<line x1="1037.32" y1="773.60" x2="1037.32" y2="775.60" stroke="#111" stroke-width="1"/>
<line x1="1043.92" y1="773.60" x2="1043.92" y2="775.60" stroke="#111" stroke-width="1"/>
<line x1="1050.52" y1="773.60" x2="1050.52" y2="775.60" stroke="#111" stroke-width="1"/>
<line x1="1057.11" y1="773.60" x2="1057.11" y2="777.60" stroke="#111" stroke-width="1"/>
<text x="1057.11" y="786.70" font-size="11.5" text-anchor="middle" font-weight="bold" font-style="normal" fill="#000" >175</text>
<line x1="1063.71" y1="773.60" x2="1063.71" y2="775.60" stroke="#111" stroke-width="1"/>
<line x1="1070.31" y1="773.60" x2="1070.31" y2="775.60" stroke="#111" stroke-width="1"/>
<line x1="1076.90" y1="773.60" x2="1076.90" y2="775.60" stroke="#111" stroke-width="1"/>
<line x1="1083.50" y1="773.60" x2="1083.50" y2="775.60" stroke="#111" stroke-width="1"/>
<line x1="1090.10" y1="773.60" x2="1090.10" y2="777.60" stroke="#111" stroke-width="1"/>
<text x="1090.10" y="786.70" font-size="11.5" text-anchor="middle" font-weight="bold" font-style="normal" fill="#000" >200</text>
<line x1="1096.69" y1="773.60" x2="1096.69" y2="775.60" stroke="#111" stroke-width="1"/>
<line x1="1103.29" y1="773.60" x2="1103.29" y2="775.60" stroke="#111" stroke-width="1"/>
<line x1="1109.88" y1="773.60" x2="1109.88" y2="775.60" stroke="#111" stroke-width="1"/>
<line x1="1116.48" y1="773.60" x2="1116.48" y2="775.60" stroke="#111" stroke-width="1"/>
<line x1="1123.08" y1="773.60" x2="1123.08" y2="777.60" stroke="#111" stroke-width="1"/>
<text x="1123.08" y="786.70" font-size="11.5" text-anchor="middle" font-weight="bold" font-style="normal" fill="#000" >225</text>
<line x1="1129.67" y1="773.60" x2="1129.67" y2="775.60" stroke="#111" stroke-width="1"/>
<line x1="1136.27" y1="773.60" x2="1136.27" y2="775.60" stroke="#111" stroke-width="1"/>
<line x1="1142.87" y1="773.60" x2="1142.87" y2="775.60" stroke="#111" stroke-width="1"/>
<line x1="1149.46" y1="773.60" x2="1149.46" y2="775.60" stroke="#111" stroke-width="1"/>
<line x1="1156.06" y1="773.60" x2="1156.06" y2="777.60" stroke="#111" stroke-width="1"/>
<text x="1156.06" y="786.70" font-size="11.5" text-anchor="middle" font-weight="bold" font-style="normal" fill="#000" >250</text>
<line x1="1162.66" y1="773.60" x2="1162.66" y2="775.60" stroke="#111" stroke-width="1"/>
<line x1="1169.25" y1="773.60" x2="1169.25" y2="775.60" stroke="#111" stroke-width="1"/>
<line x1="1175.85" y1="773.60" x2="1175.85" y2="775.60" stroke="#111" stroke-width="1"/>
<line x1="1182.45" y1="773.60" x2="1182.45" y2="775.60" stroke="#111" stroke-width="1"/>
<line x1="1189.04" y1="773.60" x2="1189.04" y2="777.60" stroke="#111" stroke-width="1"/>
<text x="1189.04" y="786.70" font-size="11.5" text-anchor="middle" font-weight="bold" font-style="normal" fill="#000" >275</text>
<line x1="1195.64" y1="773.60" x2="1195.64" y2="775.60" stroke="#111" stroke-width="1"/>
<line x1="1202.24" y1="773.60" x2="1202.24" y2="775.60" stroke="#111" stroke-width="1"/>
<line x1="1208.83" y1="773.60" x2="1208.83" y2="775.60" stroke="#111" stroke-width="1"/>
<line x1="1215.43" y1="773.60" x2="1215.43" y2="775.60" stroke="#111" stroke-width="1"/>
<line x1="1222.03" y1="773.60" x2="1222.03" y2="777.60" stroke="#111" stroke-width="1"/>
<text x="1222.03" y="786.70" font-size="11.5" text-anchor="middle" font-weight="bold" font-style="normal" fill="#000" >300</text>
<line x1="1228.62" y1="773.60" x2="1228.62" y2="775.60" stroke="#111" stroke-width="1"/>
<line x1="1235.22" y1="773.60" x2="1235.22" y2="775.60" stroke="#111" stroke-width="1"/>
<line x1="1241.81" y1="773.60" x2="1241.81" y2="775.60" stroke="#111" stroke-width="1"/>
<line x1="1248.41" y1="773.60" x2="1248.41" y2="775.60" stroke="#111" stroke-width="1"/>
<line x1="1255.01" y1="773.60" x2="1255.01" y2="777.60" stroke="#111" stroke-width="1"/>
<text x="1255.01" y="786.70" font-size="11.5" text-anchor="middle" font-weight="bold" font-style="normal" fill="#000" >325</text>
<line x1="1261.60" y1="773.60" x2="1261.60" y2="775.60" stroke="#111" stroke-width="1"/>
<line x1="1268.20" y1="773.60" x2="1268.20" y2="775.60" stroke="#111" stroke-width="1"/>
<line x1="1274.80" y1="773.60" x2="1274.80" y2="775.60" stroke="#111" stroke-width="1"/>
<line x1="1281.39" y1="773.60" x2="1281.39" y2="775.60" stroke="#111" stroke-width="1"/>
<line x1="1287.99" y1="773.60" x2="1287.99" y2="777.60" stroke="#111" stroke-width="1"/>
<text x="1287.99" y="786.70" font-size="11.5" text-anchor="middle" font-weight="bold" font-style="normal" fill="#000" >350</text>
<line x1="1294.59" y1="773.60" x2="1294.59" y2="775.60" stroke="#111" stroke-width="1"/>
<line x1="1301.18" y1="773.60" x2="1301.18" y2="775.60" stroke="#111" stroke-width="1"/>
<line x1="1307.78" y1="773.60" x2="1307.78" y2="775.60" stroke="#111" stroke-width="1"/>
<line x1="1314.38" y1="773.60" x2="1314.38" y2="775.60" stroke="#111" stroke-width="1"/>
<line x1="1320.97" y1="773.60" x2="1320.97" y2="777.60" stroke="#111" stroke-width="1"/>
<text x="1320.97" y="786.70" font-size="11.5" text-anchor="middle" font-weight="bold" font-style="normal" fill="#000" >375</text>
<line x1="1327.57" y1="773.60" x2="1327.57" y2="775.60" stroke="#111" stroke-width="1"/>
<line x1="1334.17" y1="773.60" x2="1334.17" y2="775.60" stroke="#111" stroke-width="1"/>
<line x1="1340.76" y1="773.60" x2="1340.76" y2="775.60" stroke="#111" stroke-width="1"/>
<line x1="1347.36" y1="773.60" x2="1347.36" y2="775.60" stroke="#111" stroke-width="1"/>
<line x1="1353.95" y1="773.60" x2="1353.95" y2="777.60" stroke="#111" stroke-width="1"/>
<text x="1353.95" y="786.70" font-size="11.5" text-anchor="middle" font-weight="bold" font-style="normal" fill="#000" >400</text>
<line x1="1360.55" y1="773.60" x2="1360.55" y2="775.60" stroke="#111" stroke-width="1"/>
<line x1="1367.15" y1="773.60" x2="1367.15" y2="775.60" stroke="#111" stroke-width="1"/>
<line x1="1373.74" y1="773.60" x2="1373.74" y2="775.60" stroke="#111" stroke-width="1"/>
<line x1="1380.34" y1="773.60" x2="1380.34" y2="775.60" stroke="#111" stroke-width="1"/>
<line x1="1386.94" y1="773.60" x2="1386.94" y2="777.60" stroke="#111" stroke-width="1"/>
<text x="1386.94" y="786.70" font-size="11.5" text-anchor="middle" font-weight="bold" font-style="normal" fill="#000" >425</text>
<line x1="1393.53" y1="773.60" x2="1393.53" y2="775.60" stroke="#111" stroke-width="1"/>
<line x1="1400.13" y1="773.60" x2="1400.13" y2="775.60" stroke="#111" stroke-width="1"/>
<line x1="1406.73" y1="773.60" x2="1406.73" y2="775.60" stroke="#111" stroke-width="1"/>
<line x1="1413.32" y1="773.60" x2="1413.32" y2="775.60" stroke="#111" stroke-width="1"/>
<line x1="1419.92" y1="773.60" x2="1419.92" y2="777.60" stroke="#111" stroke-width="1"/>
<text x="1419.92" y="786.70" font-size="11.5" text-anchor="middle" font-weight="bold" font-style="normal" fill="#000" >450</text>
<line x1="1426.52" y1="773.60" x2="1426.52" y2="775.60" stroke="#111" stroke-width="1"/>
<line x1="1433.11" y1="773.60" x2="1433.11" y2="775.60" stroke="#111" stroke-width="1"/>
<line x1="1439.71" y1="773.60" x2="1439.71" y2="775.60" stroke="#111" stroke-width="1"/>
<line x1="1446.31" y1="773.60" x2="1446.31" y2="775.60" stroke="#111" stroke-width="1"/>
<line x1="1452.90" y1="773.60" x2="1452.90" y2="777.60" stroke="#111" stroke-width="1"/>
<text x="1452.90" y="786.70" font-size="11.5" text-anchor="middle" font-weight="bold" font-style="normal" fill="#000" >475</text>
<line x1="1459.50" y1="773.60" x2="1459.50" y2="775.60" stroke="#111" stroke-width="1"/>
<line x1="1466.10" y1="773.60" x2="1466.10" y2="775.60" stroke="#111" stroke-width="1"/>
<line x1="1472.69" y1="773.60" x2="1472.69" y2="775.60" stroke="#111" stroke-width="1"/>
<line x1="1479.29" y1="773.60" x2="1479.29" y2="775.60" stroke="#111" stroke-width="1"/>
<line x1="1485.88" y1="773.60" x2="1485.88" y2="777.60" stroke="#111" stroke-width="1"/>
<text x="1485.88" y="786.70" font-size="11.5" text-anchor="middle" font-weight="bold" font-style="normal" fill="#000" >500</text>
<line x1="1492.48" y1="773.60" x2="1492.48" y2="775.60" stroke="#111" stroke-width="1"/>
<line x1="1499.08" y1="773.60" x2="1499.08" y2="775.60" stroke="#111" stroke-width="1"/>
<line x1="1505.67" y1="773.60" x2="1505.67" y2="775.60" stroke="#111" stroke-width="1"/>
<line x1="1512.27" y1="773.60" x2="1512.27" y2="775.60" stroke="#111" stroke-width="1"/>
<line x1="1518.87" y1="773.60" x2="1518.87" y2="777.60" stroke="#111" stroke-width="1"/>
<text x="1518.87" y="786.70" font-size="11.5" text-anchor="middle" font-weight="bold" font-style="normal" fill="#000" >525</text>
<line x1="1525.46" y1="773.60" x2="1525.46" y2="775.60" stroke="#111" stroke-width="1"/>
<line x1="1532.06" y1="773.60" x2="1532.06" y2="775.60" stroke="#111" stroke-width="1"/>
<line x1="1538.66" y1="773.60" x2="1538.66" y2="775.60" stroke="#111" stroke-width="1"/>
<line x1="1545.25" y1="773.60" x2="1545.25" y2="775.60" stroke="#111" stroke-width="1"/>
<line x1="1551.85" y1="773.60" x2="1551.85" y2="777.60" stroke="#111" stroke-width="1"/>
<text x="1551.85" y="786.70" font-size="11.5" text-anchor="middle" font-weight="bold" font-style="normal" fill="#000" >550</text>
<line x1="1558.45" y1="773.60" x2="1558.45" y2="775.60" stroke="#111" stroke-width="1"/>
<line x1="1565.04" y1="773.60" x2="1565.04" y2="775.60" stroke="#111" stroke-width="1"/>
<line x1="1571.64" y1="773.60" x2="1571.64" y2="775.60" stroke="#111" stroke-width="1"/>
<line x1="1578.24" y1="773.60" x2="1578.24" y2="775.60" stroke="#111" stroke-width="1"/>
<line x1="1584.83" y1="773.60" x2="1584.83" y2="777.60" stroke="#111" stroke-width="1"/>
<text x="1584.83" y="786.70" font-size="11.5" text-anchor="middle" font-weight="bold" font-style="normal" fill="#000" >575</text>
<line x1="1591.43" y1="773.60" x2="1591.43" y2="775.60" stroke="#111" stroke-width="1"/>
<line x1="1598.03" y1="773.60" x2="1598.03" y2="775.60" stroke="#111" stroke-width="1"/>
<line x1="1604.62" y1="773.60" x2="1604.62" y2="775.60" stroke="#111" stroke-width="1"/>
<line x1="1611.22" y1="773.60" x2="1611.22" y2="775.60" stroke="#111" stroke-width="1"/>
<line x1="1617.82" y1="773.60" x2="1617.82" y2="777.60" stroke="#111" stroke-width="1"/>
<text x="1617.82" y="786.70" font-size="11.5" text-anchor="middle" font-weight="bold" font-style="normal" fill="#000" >600</text>
<text x="1623.30" y="776.70" font-size="11" text-anchor="start" font-weight="bold" font-style="normal" fill="#000" >m/z</text>
<line x1="1107.38" y1="773.60" x2="1107.38" y2="335.80" stroke="#111" stroke-width="1.0"/>
<text x="1107.80" y="333.30" font-size="11" text-anchor="middle" font-weight="normal" font-style="normal" fill="#000" textLength="25" lengthAdjust="spacingAndGlyphs" >213.1</text>
<line x1="970.17" y1="773.60" x2="970.17" y2="755.60" stroke="#111" stroke-width="1.2"/>
<text x="970.50" y="752.00" font-size="11" text-anchor="middle" font-weight="bold" font-style="normal" fill="#000" textLength="25" lengthAdjust="spacingAndGlyphs" >109.1</text>
<line x1="1043.79" y1="773.60" x2="1043.79" y2="726.70" stroke="#111" stroke-width="1.2"/>
<text x="1044.40" y="725.10" font-size="11" text-anchor="middle" font-weight="bold" font-style="normal" fill="#000" textLength="25" lengthAdjust="spacingAndGlyphs" >164.9</text>
<line x1="1058.56" y1="773.60" x2="1058.56" y2="762.90" stroke="#111" stroke-width="1.2"/>
<text x="1058.90" y="761.10" font-size="11" text-anchor="middle" font-weight="bold" font-style="normal" fill="#000" textLength="25" lengthAdjust="spacingAndGlyphs" >176.1</text>
<line x1="1084.95" y1="773.60" x2="1084.95" y2="752.20" stroke="#111" stroke-width="1.2"/>
<text x="1085.60" y="750.00" font-size="11" text-anchor="middle" font-weight="bold" font-style="normal" fill="#000" textLength="25" lengthAdjust="spacingAndGlyphs" >196.1</text>
<line x1="1104.74" y1="773.60" x2="1104.74" y2="732.20" stroke="#111" stroke-width="1.2"/>
<text x="1091.80" y="725.60" font-size="11" text-anchor="middle" font-weight="bold" font-style="normal" fill="#000" textLength="25" lengthAdjust="spacingAndGlyphs" >211.1</text>
<line x1="1108.70" y1="773.60" x2="1108.70" y2="702.20" stroke="#111" stroke-width="1.3"/>
<text x="1109.60" y="695.60" font-size="11" text-anchor="start" font-weight="bold" font-style="normal" fill="#000" textLength="25" lengthAdjust="spacingAndGlyphs" >214.1</text>
<line x1="1108.70" y1="702.00" x2="1116.70" y2="697.00" stroke="#111" stroke-width="0.8"/>
<line x1="1120.31" y1="773.60" x2="1120.31" y2="761.10" stroke="#111" stroke-width="1.2"/>
<text x="1134.00" y="753.30" font-size="11" text-anchor="middle" font-weight="bold" font-style="normal" fill="#000" textLength="25" lengthAdjust="spacingAndGlyphs" >222.9</text>
<text x="1540.00" y="852.90" font-size="26" text-anchor="start" font-weight="normal" font-style="italic" fill="#000" textLength="130" lengthAdjust="spacingAndGlyphs" >flhDC::lacZ</text>
</svg></body></html>
